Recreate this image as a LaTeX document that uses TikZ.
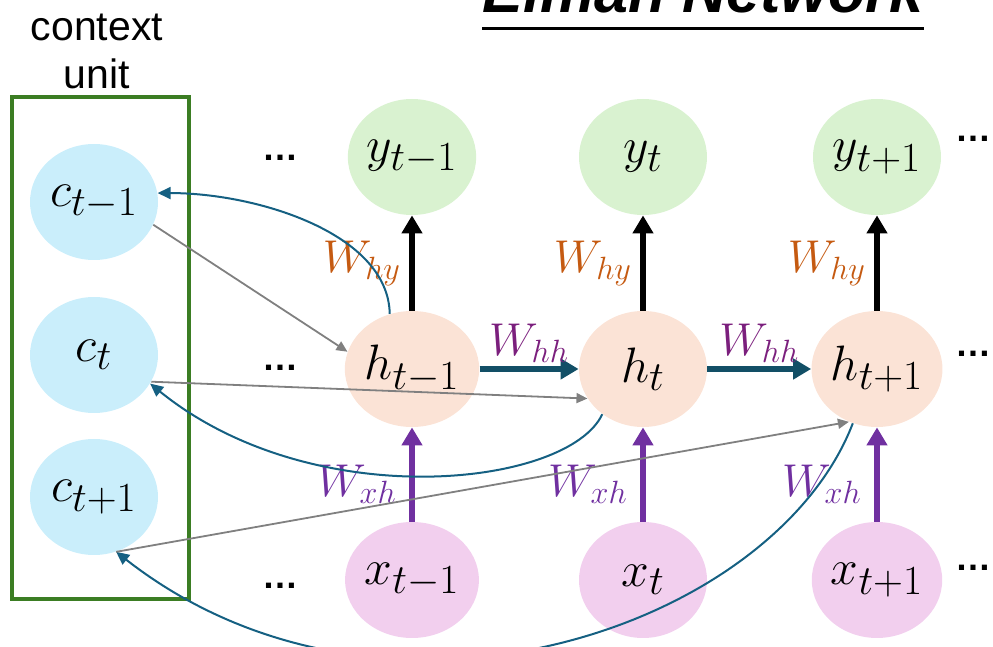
\RequirePackage{fix-cm}
\documentclass[tikz,border=0pt]{standalone}
\usepackage{amsmath}
\usepackage{fontspec}
\setsansfont{Liberation Sans}
\usetikzlibrary{arrows.meta,shapes.geometric}

\definecolor{ctxgreen}{HTML}{3B7D23}
\definecolor{cblue}{HTML}{CAEEFB}
\definecolor{ygreen}{HTML}{D9F2D0}
\definecolor{hpeach}{HTML}{FBE3D6}
\definecolor{xpink}{HTML}{F2CFEE}
\definecolor{recblue}{HTML}{156082}
\definecolor{hhteal}{HTML}{124F66}
\definecolor{hhpurple}{HTML}{7B1F7D}
\definecolor{xhpurple}{HTML}{7030A0}
\definecolor{hyorange}{HTML}{C55A11}

\tikzset{
  state/.style={ellipse, minimum width=64pt, minimum height=58pt, inner sep=0pt, font=\Huge},
  bigtip/.style={-{Triangle[length=9pt,width=10pt]}},
  hyarrow/.style={bigtip, draw=black, line width=3pt},
  xharrow/.style={bigtip, draw=xhpurple, line width=3.3pt},
  hharrow/.style={bigtip, draw=hhteal, line width=3.3pt},
  wlabel/.style={inner sep=0pt, font=\fontsize{23}{26}\selectfont},
  hylabel/.style={wlabel, midway, left=4pt, text=hyorange},
  xhlabel/.style={wlabel, midway, left=6pt, yshift=-5pt, text=xhpurple},
  hhlabel/.style={wlabel, midway, above, yshift=1.5pt, text=hhpurple},
  recur/.style={draw=recblue, line width=1pt, -{Triangle[length=6.5pt,width=6pt]}},
  feed/.style={draw=gray, line width=0.9pt, -{Triangle[length=5.5pt,width=5pt]}},
  dots/.style={font=\fontsize{18}{20}\selectfont\sffamily\bfseries, inner sep=0pt}
}

\begin{document}
\begin{tikzpicture}[x=0.5pt,y=-0.5pt]
  \useasboundingbox (0,0) rectangle (993,647);
  \clip (0,0) rectangle (993,647);

  % title (cut off at the top)
  \node[anchor=base, inner sep=0pt, font=\fontsize{30.5}{36}\selectfont\sffamily\bfseries\itshape] (title) at (703,13) {Elman Network};
  \draw[line width=1.5pt] ([yshift=-8pt]title.base west) -- ([yshift=-8pt]title.base east);

  % context units
  \node[draw=ctxgreen, line width=1.6pt, minimum width=88.5pt, minimum height=251pt, inner sep=0pt] (ctx) at (100.5,348) {};
  \node[align=center, font=\fontsize{20.5}{24}\selectfont\sffamily] (ctxlbl) at (97,51) {context\\unit};
  \foreach \n/\y/\s in {1/202/t-1, 2/355/t, 3/497/t+1}
    \node[state, fill=cblue] (c\n) at (94,\y) {$c_{\s}$};

  % outputs, hidden states, inputs
  \foreach \n/\x/\s in {1/412/t-1, 2/643/t, 3/877/t+1} {
    \node[state, fill=ygreen] (y\n) at (\x,157) {$y_{\s}$};
    \node[state, fill=hpeach] (h\n) at (\x,369) {$h_{\s}$};
    \node[state, fill=xpink] (x\n) at (\x,580) {$x_{\s}$};
    \draw[hyarrow] (h\n) -- (y\n) node[hylabel] (why\n) {$W_{hy}$};
    \draw[xharrow] (x\n) -- (h\n) node[xhlabel] (wxh\n) {$W_{xh}$};
  }
  \foreach \a/\b in {1/2, 2/3}
    \draw[hharrow] (h\a) -- (h\b) node[hhlabel] (whh\a) {$W_{hh}$};

  \foreach \x/\y [count=\i] in {281/158, 281/368, 281/586, 973/139, 973/354, 973/568}
    \node[dots] (dots\i) at (\x,\y) {…};

  % copies into the context units
  \draw[recur] (h1.112) .. controls +(91:40pt) and +(0:50pt) .. (c1.8);
  \draw[recur] (h2.228) .. controls +(245:40pt) and +(-39:105pt) .. (c2.-27);
  \draw[recur] (h3.246) .. controls +(249:110pt) and +(-38:170pt) .. (c3.-68);

  % context fed back
  \draw[feed] (c1.-21) -- (h1.165);
  \draw[feed] (c2.-25) -- (h2.208);
  \draw[feed] (c3.-68) -- (h3.242);
\end{tikzpicture}
\end{document}
